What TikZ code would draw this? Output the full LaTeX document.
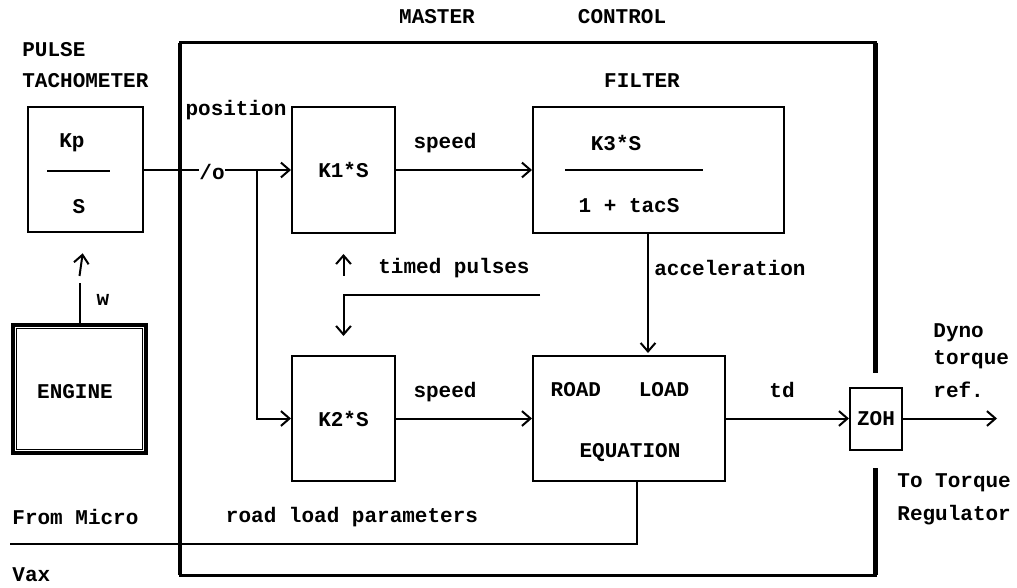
\documentclass[tikz,border=0pt]{standalone}
\usepackage{fontspec}
\setmonofont{Liberation Mono}
\usetikzlibrary{arrows.meta}

\begin{document}
\begin{tikzpicture}[
    x=0.5pt, y=-0.5pt,
    >={Straight Barb[length=1.5mm,width=2.6mm]},
    every node/.style={font=\ttfamily\bfseries\fontsize{10.5}{12}\selectfont, inner sep=0pt},
    blk/.style={draw, line width=1pt},
    wire/.style={line width=1pt},
    frame/.style={line width=1.5pt},
]
\useasboundingbox (0,0) rectangle (1017,588);

% Master control frame (gap on the right for the ZOH)
\draw[frame] (875,373) -- (875,43) -- (180,43) -- (180,575) -- (875,575) -- (875,468);
\draw[line width=2.3pt] (180,43) -- (180,575);
\draw[line width=2.5pt] (875,43) -- (875,373) (875,468) -- (875,575);

% Titles
\node (lmaster) at (437,17) {MASTER};
\node (lcontrol) at (622,17) {CONTROL};
\node[anchor=west] (lpulse) at (22,50) {PULSE};
\node[anchor=west] (ltacho) at (22,81) {TACHOMETER};
\node (lfilter) at (642,81) {FILTER};

% Blocks
\node[blk, minimum width=57.5pt, minimum height=62.5pt] (tacho) at (85.5,170) {};
\node[blk, minimum width=51.5pt, minimum height=63pt] (kone) at (343.5,170) {K1*S};
\node[blk, minimum width=125.5pt, minimum height=63pt] (filt) at (658.5,170) {};
\node[blk, line width=2.2pt, minimum width=66.5pt, minimum height=64pt] (engine) at (79.5,389) {};
\node[blk, minimum width=51.5pt, minimum height=62.5pt] (ktwo) at (343.5,418.5) {K2*S};
\node[blk, minimum width=96pt, minimum height=62.5pt] (road) at (629,418.5) {};
\node[blk, minimum width=26pt, minimum height=31pt] (zoh) at (876,418.5) {ZOH};

% Engine inner rule
\draw[thin] ([shift={(3pt,-3pt)}]engine.north west) rectangle ([shift={(-3pt,3pt)}]engine.south east);
\node (lengine) at (75,392) {ENGINE};

% Block texts
\node (kp) at (72,143) {Kp};
\node (ks) at (79,207) {S};
\draw[wire] (47,171) -- (110,171);
\node (kthree) at (616,143) {K3*S};
\node (ktac) at (629,206) {1 + tacS};
\draw[wire] (565,170) -- (703,170);
\node (lroad) at (620,390) {ROAD~~~LOAD};
\node (lequ) at (630,453) {EQUATION};

% Position signal
\node (lslash) at (212,172) {/o};
\node (lpos) at (236,110) {position};
\coordinate (br) at (257,170);
\draw[wire] (tacho.east) -- (lslash.west |- tacho.east);
\draw[wire, ->] (lslash.east |- kone.west) -- (kone.west);
\draw[wire, ->] (br) |- (ktwo.west);

% Speed into filter and road load
\node (lspeedone) at (445,143) {speed};
\node (lspeedtwo) at (445,392) {speed};
\draw[wire, ->] (kone.east) -- (filt.west);
\draw[wire, ->] (ktwo.east) -- (road.west);

% Acceleration
\coordinate (accx) at (648,0);
\node (lacc) at (730,268) {acceleration};
\draw[wire, ->, shorten >=1pt] (filt.south -| accx) -- (road.north -| accx);

% Timed pulses
\coordinate (tp) at (540,295);
\coordinate (tup) at (343.5,276);
\node (ltimed) at (454,268) {timed pulses};
\draw[wire, ->, shorten >=9.5pt] (tp) -| (ktwo.north);
\draw[wire, ->, shorten >=10pt] (tup) -- (kone.south);

% Engine speed w
\coordinate (wgap) at (79.5,283);
\coordinate (wtail) at (79.5,276);
\node (lw) at (103,300) {w};
\draw[wire] (engine.north) -- (wgap);
\draw[wire, ->, shorten >=10pt] (wtail) -- (tacho.south);

% Road load parameters
\coordinate (rlx) at (637,0);
\coordinate (fm) at (10,544);
\node (lparam) at (352,517) {road load parameters};
\node[anchor=west] (lmicro) at (12,517) {From Micro};
\node[anchor=west] (lvax) at (12,575) {Vax};
\draw[wire] (road.south -| rlx) |- (fm);

% Torque demand out
\coordinate (out) at (997,418.5);
\node (ltd) at (782,390) {td};
\draw[wire, ->] (road.east) -- (zoh.west);
\draw[wire, ->] (zoh.east) -- (out);
\node[anchor=west] (ldyno) at (933,333) {Dyno};
\node[anchor=west] (ltorque) at (933,360) {torque};
\node[anchor=west] (lref) at (933,390) {ref.};
\node[anchor=west] (lto) at (897,483) {To Torque};
\node[anchor=west] (lreg) at (897,515) {Regulator};

\end{tikzpicture}
\end{document}
